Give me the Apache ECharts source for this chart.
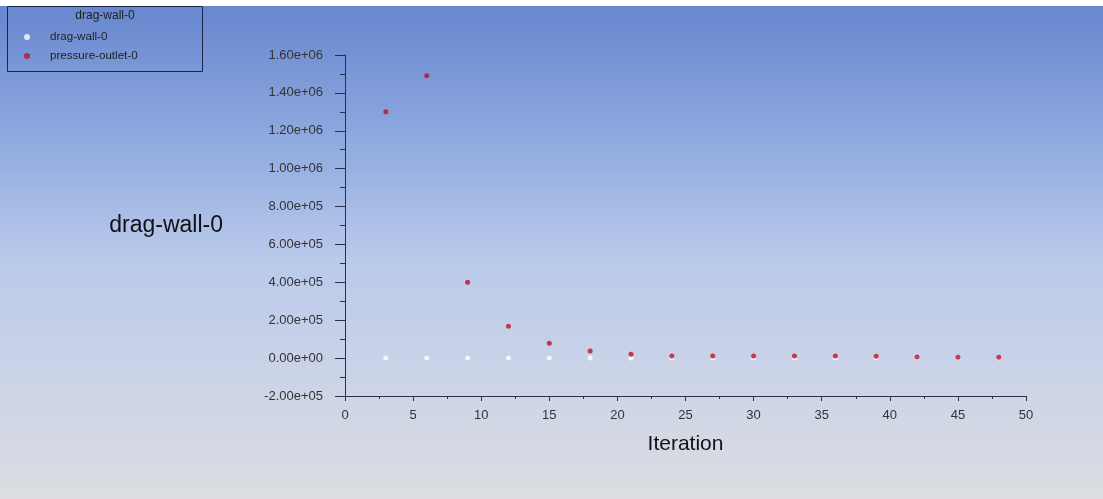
<!DOCTYPE html>
<html>
<head>
<meta charset="utf-8">
<script src="https://cdn.jsdelivr.net/npm/echarts@6/dist/echarts.min.js"></script>
<style>html,body{margin:0;padding:0;background:#fff}#c{width:1103px;height:499px}</style>
</head>
<body>
<div id="c"></div>
<script>
const iterations = [3, 6, 9, 12, 15, 18, 21, 24, 27, 30, 33, 36, 39, 42, 45, 48];
const dragWall = [0, 0, 0, 0, 0, 0, 0, 0, 0, 0, 0, 0, 0, 0, 0, 0];
const pressureOutlet = [1300000, 1490000, 400000, 168000, 78000, 37000, 20000, 11000, 10500, 10500, 10500, 10500, 10000, 5500, 5000, 5000];
const seriesNames = ['drag-wall-0', 'pressure-outlet-0'];
const legendTitle = 'drag-wall-0';
const yAxisTitle = 'drag-wall-0';
const xAxisTitle = 'Iteration';

function fmtExp(v) {
  if (v === 0) return '0.00e+00';
  const s = Number(v).toExponential(2);
  const m = s.split('e');
  let e = parseInt(m[1], 10);
  const sign = e < 0 ? '-' : '+';
  e = Math.abs(e);
  return m[0] + 'e' + sign + (e < 10 ? '0' + e : '' + e);
}

const FONT = 'Liberation Sans, Arial, sans-serif';
const chart = echarts.init(document.getElementById('c'), null, {renderer: 'canvas'});
chart.setOption({
  animation: false,
  backgroundColor: '#ffffff',
  graphic: [
    {type: 'rect', z: -10, silent: true, shape: {x: 0, y: 6, width: 1103, height: 493},
     style: {fill: new echarts.graphic.LinearGradient(0, 0, 0, 1, [
       {offset: 0, color: '#6787cf'},
       {offset: 0.29, color: '#92ace0'},
       {offset: 0.52, color: '#bbcaeb'},
       {offset: 1, color: '#dcdde2'}
     ])}},
    {type: 'rect', z: 1, silent: true, shape: {x: 7.5, y: 6.5, width: 195, height: 65},
     style: {fill: 'transparent', stroke: '#1e2447', lineWidth: 1}},
    {type: 'text', z: 2, silent: true, x: 105, y: 16,
     style: {text: legendTitle, font: '12px ' + FONT, fill: '#222', align: 'center', verticalAlign: 'middle'}}
  ],
  legend: {
    orient: 'vertical', left: 24, top: 30, padding: 0,
    itemWidth: 6, itemHeight: 6, itemGap: 5, icon: 'circle',
    textStyle: {fontSize: 11.6, fontFamily: FONT, color: '#222', lineHeight: 14, padding: [0, 0, 0, 15]},
    data: seriesNames
  },
  grid: {left: 345, right: 77, top: 55, bottom: 103},
  xAxis: {
    type: 'value', min: 0, max: 50, interval: 5,
    name: xAxisTitle, nameLocation: 'middle', nameGap: 38,
    nameTextStyle: {fontSize: 21, fontFamily: FONT, color: '#111'},
    axisLine: {show: true, onZero: false, lineStyle: {color: '#2a3045', width: 1}},
    axisTick: {show: true, length: 5, lineStyle: {color: '#2a3045'}},
    minorTick: {show: true, splitNumber: 2, length: 3, lineStyle: {color: '#2a3045'}},
    splitLine: {show: false},
    axisLabel: {margin: 13, fontSize: 13, fontFamily: FONT, color: '#333'}
  },
  yAxis: {
    type: 'value', min: -200000, max: 1600000, interval: 200000,
    name: yAxisTitle, nameLocation: 'middle', nameGap: 122, nameRotate: 0,
    nameTextStyle: {fontSize: 23, fontFamily: FONT, color: '#111', align: 'right', verticalAlign: 'middle'},
    axisLine: {show: true, onZero: false, lineStyle: {color: '#2a3045', width: 1}},
    axisTick: {show: true, length: 10, lineStyle: {color: '#2a3045'}},
    minorTick: {show: true, splitNumber: 2, length: 5, lineStyle: {color: '#2a3045'}},
    splitLine: {show: false},
    axisLabel: {margin: 22, fontSize: 13, fontFamily: FONT, color: '#333', formatter: fmtExp}
  },
  series: [
    {name: seriesNames[0], type: 'scatter', symbol: 'circle', symbolSize: 5, z: 2,
     itemStyle: {color: '#ffffff'},
     data: iterations.map((x, i) => [x, dragWall[i]])},
    {name: seriesNames[1], type: 'scatter', symbol: 'circle', symbolSize: 5, z: 3,
     itemStyle: {color: '#c20c28'},
     data: iterations.map((x, i) => [x, pressureOutlet[i]])}
  ]
});
</script>
</body>
</html>
